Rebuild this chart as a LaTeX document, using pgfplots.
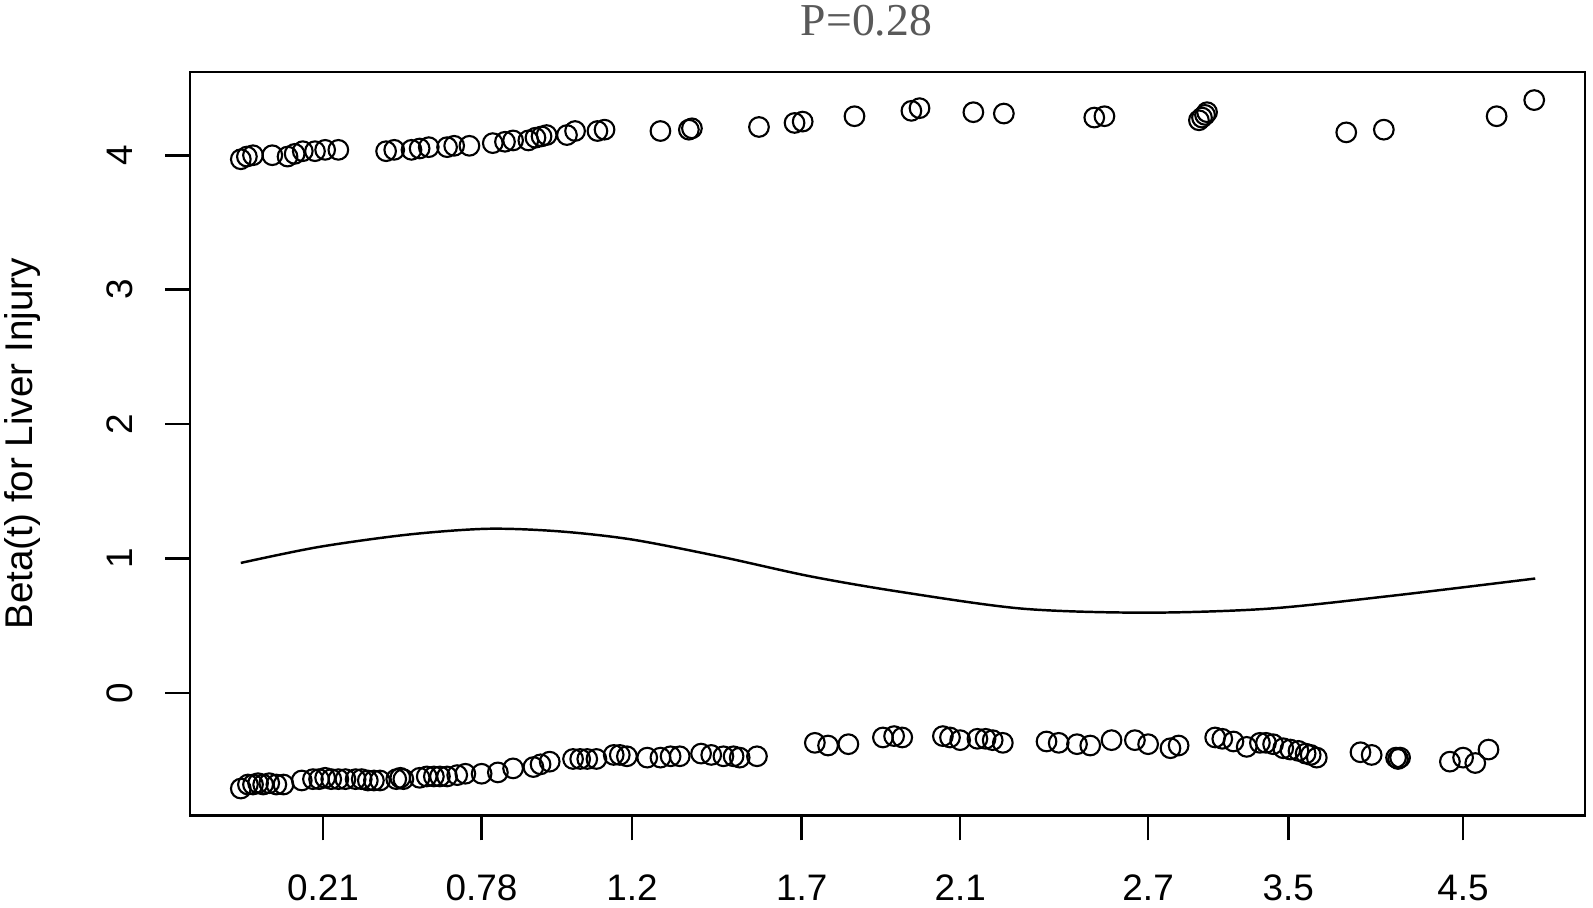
\documentclass[border=0pt]{standalone}
\usepackage{fontspec}
\setmainfont{Liberation Sans}
\newfontfamily\titlefont{Liberation Serif}
\usepackage{pgfplots}
\pgfplotsset{compat=1.18}
\usetikzlibrary{calc}
\begin{document}
\begin{tikzpicture}
\begin{axis}[name=ax, scale only axis, width=397.2pt, height=211.8pt,
  xmin=187, xmax=1560, ymin=-0.913, ymax=4.619,
  axis line style={line width=0.8pt},
  tick align=outside, tick style={line width=0.75pt, black}, major tick length=7pt,
  xtick={318,474,622,789,945,1130,1268,1440},
  xticklabels={0.21,0.78,1.2,1.7,2.1,2.7,3.5,4.5},
  ytick={0,1,2,3,4},
  xtick pos=bottom, ytick pos=left,
  /pgf/number format/assume math mode=true,
  ticklabel style={font=\fontsize{10.5}{12}\selectfont, inner sep=0pt},
  xticklabel style={anchor=north},
  yticklabel style={rotate=90, anchor=south},
  xticklabel shift=9.6pt, yticklabel shift=9.2pt,
  clip=false]
\addplot[only marks, mark=o, mark size=2.8pt, mark options={line width=0.6pt}, black] coordinates {
(237,3.97) (243,3.99) (249,4.00) (268,4.00) (283,3.99) (290,4.01) (298,4.03) (310,4.03) (320,4.04) (333,4.04)
(380,4.03) (388,4.04) (405,4.04) (413,4.05) (422,4.06) (440,4.06) (447,4.07) (462,4.07) (485,4.09) (497,4.10)
(505,4.11) (520,4.11) (527,4.13) (533,4.14) (538,4.15) (558,4.15) (566,4.18) (588,4.18) (595,4.19) (650,4.18)
(678,4.19) (681,4.20) (747,4.21) (782,4.24) (790,4.25) (841,4.29) (897,4.33) (905,4.35) (958,4.32) (988,4.31)
(1077,4.28) (1087,4.29) (1180,4.26) (1183,4.28) (1186,4.30) (1188,4.32) (1325,4.17) (1362,4.19) (1473,4.29) (1510,4.41)
};
\addplot[only marks, mark=o, mark size=2.8pt, mark options={line width=0.6pt}, black] coordinates {
(237,-0.71) (244,-0.68) (249,-0.68) (254,-0.67) (259,-0.68) (265,-0.67) (272,-0.68) (279,-0.68) (297,-0.65) (308,-0.64)
(314,-0.64) (320,-0.63) (326,-0.64) (333,-0.64) (340,-0.64) (350,-0.64) (356,-0.64) (362,-0.65) (368,-0.65) (374,-0.65)
(390,-0.64) (394,-0.63) (397,-0.64) (413,-0.63) (420,-0.62) (427,-0.62) (433,-0.62) (440,-0.62) (450,-0.61) (458,-0.60)
(474,-0.60) (490,-0.59) (505,-0.56) (525,-0.55) (532,-0.53) (541,-0.51) (564,-0.49) (571,-0.49) (578,-0.49) (587,-0.49)
(604,-0.46) (610,-0.46) (617,-0.47) (637,-0.48) (650,-0.48) (660,-0.47) (669,-0.47) (690,-0.45) (700,-0.46) (712,-0.47)
(722,-0.47) (728,-0.48) (745,-0.47) (802,-0.37) (815,-0.39) (835,-0.38) (869,-0.33) (880,-0.32) (888,-0.33) (928,-0.32)
(935,-0.33) (945,-0.35) (962,-0.34) (970,-0.34) (977,-0.35) (987,-0.37) (1030,-0.36) (1042,-0.37) (1060,-0.38) (1073,-0.39)
(1094,-0.35) (1117,-0.35) (1130,-0.38) (1152,-0.41) (1160,-0.39) (1196,-0.33) (1203,-0.34) (1214,-0.36) (1227,-0.40) (1240,-0.37)
(1246,-0.37) (1253,-0.38) (1263,-0.41) (1270,-0.42) (1278,-0.43) (1285,-0.45) (1290,-0.46) (1296,-0.48) (1339,-0.44) (1350,-0.46)
(1374,-0.48) (1376,-0.49) (1378,-0.48) (1427,-0.51) (1440,-0.48) (1452,-0.52) (1465,-0.42)
};
\addplot[black, line width=0.7pt, smooth] coordinates {
(237,0.968) (314,1.087) (402,1.179) (480,1.222) (550,1.203) (622,1.142) (710,1.013) (797,0.869)
(886,0.753) (1006,0.628) (1127,0.598) (1247,0.627) (1368,0.722) (1511,0.852)
};
\end{axis}
\node[rotate=90, font=\fontsize{11}{13}\selectfont] at ($(ax.west)+(-47.8pt,0)$) {Beta(t) for Liver Injury};
\node[font=\titlefont\fontsize{13}{15}\selectfont, text=black!65] at ($(ax.north)+(-6pt,14.5pt)$) {P=0.28};
\pgfresetboundingbox
\path[use as bounding box] ($(ax.south west)+(-54.1pt,-26.2pt)$) rectangle ($(ax.north east)+(2.28pt,20.5pt)$);
\end{tikzpicture}
\end{document}
